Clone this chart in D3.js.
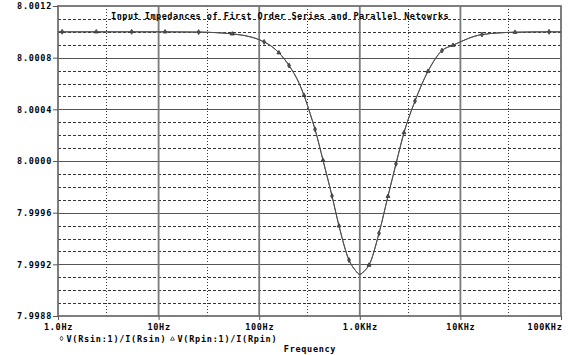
<!DOCTYPE html>
<html>
<head>
    <meta charset="utf-8">
    <title>Input Impedances</title>
    <script src="https://cdn.jsdelivr.net/npm/d3@7"></script>
    <style>
        body { margin: 0; background: #fff; }
        text { font-family: "DejaVu Sans Mono", "Liberation Mono", monospace; font-weight: bold; fill: #000; }
    </style>
</head>
<body>
    <div id="container"></div>
    <script>

        // frequency points (Hz)
        var freqs = [1, 1.1, 2.4, 5.4, 11.6, 25, 54, 112, 157, 198, 250, 279, 320, 359, 431, 529, 621, 781,
            900, 1000, 1120, 1235, 1552, 1906, 2290, 2750, 3537, 4766, 6565, 8440, 16400, 34900, 76000, 100000];

        // V(Rsin:1)/I(Rsin)
        var zSeries = [8.00100, 8.00100, 8.00100, 8.00100, 8.00100, 8.000998, 8.000984, 8.000922, 8.000838, 8.000739,
            8.000600, 8.000508, 8.000369, 8.000245, 8.000005, 7.999730, 7.999498, 7.999233,
            7.999155, 7.999122, 7.999152, 7.999194, 7.999441, 7.999727, 7.999978, 8.000219, 8.000464, 8.000695,
            8.000855, 8.000896, 8.000979, 8.000997, 8.00100, 8.00100];

        // V(Rpin:1)/I(Rpin) lies exactly on top of the series trace
        var zParallel = zSeries.slice();

        // where the plot symbols sit
        var rsinMarks = [1.1, 5.4, 25, 112, 198, 359, 529, 781, 1552, 2290, 3537, 6565, 16400, 76000];
        var rpinMarks = [2.4, 11.6, 54, 157, 279, 431, 621, 1235, 1906, 2750, 4766, 8440, 34900];

        var yTicks = [7.9988, 7.9992, 7.9996, 8.0000, 8.0004, 8.0008, 8.0012];
        var yMinor = [7.9989, 7.9990, 7.9991, 7.9993, 7.9994, 7.9995, 7.9997, 7.9998, 7.9999,
            8.0001, 8.0002, 8.0003, 8.0005, 8.0006, 8.0007, 8.0009, 8.0010, 8.0011];
        var xTicks = [1, 10, 100, 1000, 10000, 100000];
        var xTickLabels = ["1.0Hz", "10Hz", "100Hz", "1.0KHz", "10KHz", "100KHz"];
        var xMinor = [3, 30, 300, 3000, 30000];

        var title = "Input Impedances of First Order Series and Parallel Netowrks";

        var width = 568, height = 355;
        var plotL = 58, plotR = 561, plotT = 6, plotB = 316;

        var xScale = d3.scaleLog().domain([1, 100000]).range([plotL, plotR]);
        var yScale = d3.scaleLinear().domain([7.9988, 8.0012]).range([plotB, plotT]);

        var svg = d3.select("#container").append("svg")
            .attr("width", width)
            .attr("height", height);

        svg.append("rect").attr("width", width).attr("height", height).attr("fill", "#fff");

        // dotted minor grid
        svg.append("g").selectAll("line")
            .data(yMinor).enter().append("line")
            .attr("x1", plotL).attr("x2", plotR)
            .attr("y1", function (d) { return Math.round(yScale(d)) + 0.5; })
            .attr("y2", function (d) { return Math.round(yScale(d)) + 0.5; })
            .attr("stroke", "#333").attr("stroke-dasharray", "3,2");

        svg.append("g").selectAll("line")
            .data(xMinor).enter().append("line")
            .attr("x1", function (d) { return Math.round(xScale(d)) + 0.5; })
            .attr("x2", function (d) { return Math.round(xScale(d)) + 0.5; })
            .attr("y1", plotT).attr("y2", plotB)
            .attr("stroke", "#333").attr("stroke-dasharray", "1,2");

        // solid major grid
        svg.append("g").selectAll("line")
            .data(yTicks.slice(1, -1)).enter().append("line")
            .attr("x1", plotL).attr("x2", plotR)
            .attr("y1", function (d) { return Math.round(yScale(d)) + 0.5; })
            .attr("y2", function (d) { return Math.round(yScale(d)) + 0.5; })
            .attr("stroke", "#555");

        svg.append("g").selectAll("line")
            .data(xTicks.slice(1, -1)).enter().append("line")
            .attr("x1", function (d) { return xScale(d); })
            .attr("x2", function (d) { return xScale(d); })
            .attr("y1", plotT).attr("y2", plotB)
            .attr("stroke", "#7a7a7a").attr("stroke-width", 1.8);

        // frame
        svg.append("rect")
            .attr("x", plotL).attr("y", plotT)
            .attr("width", plotR - plotL).attr("height", plotB - plotT)
            .attr("fill", "none").attr("stroke", "#707070").attr("stroke-width", 1.8);

        // axes
        var yAxis = d3.axisLeft(yScale)
            .tickValues(yTicks)
            .tickSize(5)
            .tickPadding(1)
            .tickFormat(d3.format(".4f"));

        var gy = svg.append("g")
            .attr("transform", "translate(" + plotL + ",0)")
            .call(yAxis);
        gy.select(".domain").remove();
        gy.selectAll("line").attr("stroke", "#555");
        gy.selectAll("text")
            .attr("font-size", 8.5)
            .attr("letter-spacing", 0.7)
            .attr("font-family", null)
            .attr("dy", "0.35em");

        var xAxis = d3.axisBottom(xScale)
            .tickValues(xTicks)
            .tickSize(4)
            .tickFormat(function (d, i) { return xTickLabels[i]; });

        var gx = svg.append("g")
            .attr("transform", "translate(0," + plotB + ")")
            .call(xAxis);
        gx.select(".domain").remove();
        gx.selectAll("line").attr("stroke", "#555");
        gx.selectAll("text")
            .attr("font-size", 8.5)
            .attr("letter-spacing", 0.7)
            .attr("font-family", null)
            .attr("y", 14)
            .attr("dy", 0)
            .attr("text-anchor", function (d, i) { return i === xTicks.length - 1 ? "end" : "middle"; })
            .attr("x", function (d, i) { return i === xTicks.length - 1 ? 1 : 0; });

        // traces
        var line = d3.line()
            .x(function (d) { return xScale(d[0]); })
            .y(function (d) { return yScale(d[1]); })
            .curve(d3.curveMonotoneX);

        var seriesPts = freqs.map(function (f, i) { return [f, zSeries[i]]; });
        var parallelPts = freqs.map(function (f, i) { return [f, zParallel[i]]; });

        svg.append("path")
            .datum(seriesPts)
            .attr("d", line)
            .attr("fill", "none")
            .attr("stroke", "#505050")
            .attr("stroke-width", 1);

        svg.append("path")
            .datum(parallelPts)
            .attr("d", line)
            .attr("fill", "none")
            .attr("stroke", "#505050")
            .attr("stroke-width", 1);

        function valueAt(f, vals) {
            return vals[freqs.indexOf(f)];
        }

        var diamond = d3.symbol().type(d3.symbolDiamond).size(7);
        var triangle = d3.symbol().type(d3.symbolTriangle).size(7);

        svg.append("g").selectAll("path")
            .data(rsinMarks).enter().append("path")
            .attr("d", diamond)
            .attr("transform", function (d) { return "translate(" + xScale(d) + "," + yScale(valueAt(d, zSeries)) + ")"; })
            .attr("fill", "#555").attr("stroke", "#333").attr("stroke-width", 0.8);

        svg.append("g").selectAll("path")
            .data(rpinMarks).enter().append("path")
            .attr("d", triangle)
            .attr("transform", function (d) { return "translate(" + xScale(d) + "," + yScale(valueAt(d, zParallel)) + ")"; })
            .attr("fill", "#555").attr("stroke", "#333").attr("stroke-width", 0.8);

        // title
        svg.append("text")
            .attr("x", 111)
            .attr("y", 18.5)
            .attr("font-size", 8.5)
            .attr("letter-spacing", 0.52)
            .text(title);

        // legend
        svg.append("path")
            .attr("d", diamond)
            .attr("transform", "translate(61.5,338.5)")
            .attr("fill", "none").attr("stroke", "#555");
        svg.append("text")
            .attr("x", 66.5).attr("y", 341.5)
            .attr("font-size", 8.5).attr("letter-spacing", 0.75)
            .text("V(Rsin:1)/I(Rsin)");

        svg.append("path")
            .attr("d", triangle)
            .attr("transform", "translate(172.5,339)")
            .attr("fill", "none").attr("stroke", "#555");
        svg.append("text")
            .attr("x", 177.5).attr("y", 341.5)
            .attr("font-size", 8.5).attr("letter-spacing", 0.75)
            .text("V(Rpin:1)/I(Rpin)");

        svg.append("text")
            .attr("x", 310).attr("y", 352)
            .attr("text-anchor", "middle")
            .attr("font-size", 8.5).attr("letter-spacing", 0.7)
            .text("Frequency");

    </script>
</body>
</html>
